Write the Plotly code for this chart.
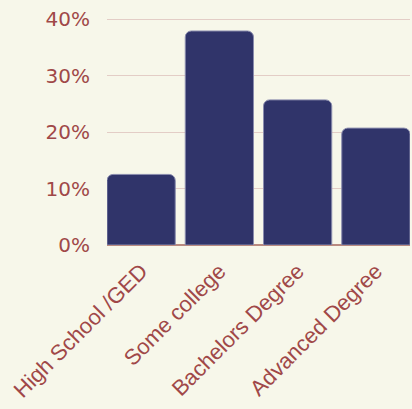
import plotly.graph_objects as go

categories = ["High School /GED", "Some college", "Bachelors Degree", "Advanced Degree"]
values = [12.5, 37.9, 25.7, 20.7]
y_ticks = [0, 10, 20, 30, 40]
y_tick_labels = ["0%", "10%", "20%", "30%", "40%"]

bg = "#f7f7ea"
bar_color = "#30346a"
text_color = "#a04848"
grid_color = "#e3cdc6"

fig = go.Figure(go.Bar(
    x=categories, y=values,
    marker=dict(color=bar_color, line=dict(color="#8a8cae", width=1)),
    width=0.872,
))
fig.update_layout(
    width=412, height=409,
    paper_bgcolor=bg, plot_bgcolor=bg,
    margin=dict(l=107, r=2, t=18, b=164),
    barcornerradius=6,
    showlegend=False,
    xaxis=dict(
        range=[-0.436, 3.436],
        tickangle=-45,
        tickfont=dict(family="Liberation Sans, Arial, sans-serif", size=22, color=text_color),
        showgrid=False, zeroline=False,
        showline=False,
        ticks="",
        ticklabelstandoff=8,
    ),
    yaxis=dict(
        range=[0, 40.2],
        tickvals=y_ticks, ticktext=y_tick_labels,
        tickfont=dict(family="DejaVu Sans, sans-serif", size=20, color=text_color),
        showgrid=True, gridcolor=grid_color, gridwidth=1,
        zeroline=True, zerolinecolor="#b98a80", zerolinewidth=1.5,
        ticklabelstandoff=16,
        ticks="",
    ),
)
fig.write_html("out.html")
